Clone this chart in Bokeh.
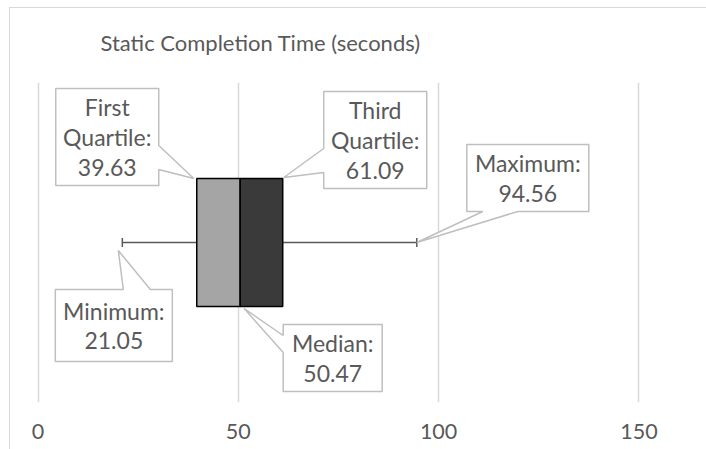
from bokeh.plotting import figure
from bokeh.models import Range1d, SingleIntervalTicker
from bokeh.core.properties import value
from bokeh.embed import file_html
from bokeh.resources import INLINE

# ---- data ----
title_text = "Static Completion Time (seconds)"
stat_names = ["Minimum", "First Quartile", "Median", "Third Quartile", "Maximum"]
stat_values = [21.05, 39.63, 50.47, 61.09, 94.56]
label_lines = [["Minimum:", "21.05"],
               ["First", "Quartile:", "39.63"],
               ["Median:", "50.47"],
               ["Third", "Quartile:", "61.09"],
               ["Maximum:", "94.56"]]
tick_interval = 50

minimum, q1, median, q3, maximum = stat_values

# ---- layout ----
W, H = 706, 449
FL, FT = 10, 82
FW, FH = W - FL, 320
SX = 4.006
X0 = -(37.5 - FL) / SX
X1 = X0 + FW / SX
BOX_BOT, BOX_TOP, MID = 0.3, 0.7, 0.5
FONT = "Lato"
TXT = "#595959"

def to_px(x, y):
    return FL + (x - X0) * SX, FT + FH - y * FH

def to_data(cx, cy):
    return X0 + (cx - FL) / SX, (FT + FH - cy) / FH

p = figure(width=W, height=H, output_backend="svg", toolbar_location=None,
           x_range=Range1d(X0, X1), y_range=Range1d(0, 1),
           y_axis_location=None,
           min_border_left=FL, min_border_right=0, min_border_top=FT,
           min_border_bottom=H - FT - FH)
p.outline_line_color = None
p.background_fill_color = "white"
p.border_fill_color = None
# chart-area border (left and top edges visible in the crop)
p.styles = {
    "background-color": "white",
    "background-image": "linear-gradient(#d9d9d9, #d9d9d9), linear-gradient(#d9d9d9, #d9d9d9)",
    "background-size": "1px 100%, 100% 1px",
    "background-position": "9px 7px, 9px 7px",
    "background-repeat": "no-repeat",
}

p.title.text = title_text
p.title.text_font = FONT
p.title.text_font_size = "22px"
p.title.text_font_style = "normal"
p.title.text_color = TXT
p.title.align = "left"
p.title.vertical_align = "top"
p.title.offset = 90
p.title.standoff = 50

p.ygrid.visible = False
p.xgrid.grid_line_color = "#d9d9d9"
p.xgrid.grid_line_width = 1.5
ax = p.xaxis[0]
ax.ticker = SingleIntervalTicker(interval=tick_interval)
ax.axis_line_color = None
ax.major_tick_line_color = None
ax.minor_tick_line_color = None
ax.major_tick_out = 0
ax.major_tick_in = 0
ax.minor_tick_out = 0
ax.major_label_text_font = FONT
ax.major_label_text_font_size = "21.5px"
ax.major_label_text_color = TXT
ax.major_label_standoff = 21

# whiskers
p.segment(x0=[q1, q3], x1=[minimum, maximum], y0=[MID, MID], y1=[MID, MID],
          line_color="#595959", line_width=1.5)
p.segment(x0=[minimum, maximum], x1=[minimum, maximum],
          y0=[MID - 0.014] * 2, y1=[MID + 0.014] * 2,
          line_color="#595959", line_width=1.5)

# box
p.quad(left=[q1, median], right=[median, q3], bottom=[BOX_BOT] * 2, top=[BOX_TOP] * 2,
       fill_color=["#a5a5a5", "#3a3a3a"], line_color="black", line_width=1.5)

# callouts: offsets in px relative to anchor
specs = {
    "Minimum": dict(ay=MID, tip=(-4, 8), box=(-67, 50, 47, 119), edge="top", base=(1, 28)),
    "First Quartile": dict(ay=BOX_TOP, tip=(-3, 0), box=(-141, -38, -90, 7), edge="right", base=(-33, -9)),
    "Median": dict(ay=BOX_BOT, tip=(4, 2), box=(43, 142, 18, 85), edge="left", base=(29, 46)),
    "Third Quartile": dict(ay=BOX_TOP, tip=(1, -1), box=(41, 144, -87, 10), edge="left", base=(-30, -6)),
    "Maximum": dict(ay=MID, tip=(0, 0), box=(50, 172, -98, -31), edge="bottom", base=(66, 101)),
}

xs, ys = [], []
tx, ty, tt = [], [], []
LINE_SP = 30
for name, val, lines in zip(stat_names, stat_values, label_lines):
    s = specs[name]
    axp, ayp = to_px(val, s["ay"])
    tipx, tipy = axp + s["tip"][0], ayp + s["tip"][1]
    l, r, t, b = [axp + s["box"][0], axp + s["box"][1], ayp + s["box"][2], ayp + s["box"][3]]
    b1, b2 = s["base"]
    e = s["edge"]
    pts = [(l, t)]
    if e == "top":
        pts += [(axp + b1, t), (tipx, tipy), (axp + b2, t)]
    pts += [(r, t)]
    if e == "right":
        pts += [(r, ayp + b1), (tipx, tipy), (r, ayp + b2)]
    pts += [(r, b)]
    if e == "bottom":
        pts += [(axp + b2, b), (tipx, tipy), (axp + b1, b)]
    pts += [(l, b)]
    if e == "left":
        pts += [(l, ayp + b2), (tipx, tipy), (l, ayp + b1)]
    dpts = [to_data(*q) for q in pts]
    xs.append([q[0] for q in dpts])
    ys.append([q[1] for q in dpts])
    cx, cy = (l + r) / 2, (t + b) / 2
    n = len(lines)
    for i, ln in enumerate(lines):
        dx, dy = to_data(cx, cy + (i - (n - 1) / 2) * LINE_SP)
        tx.append(dx); ty.append(dy); tt.append(ln)

p.patches(xs=xs, ys=ys, fill_color="white", line_color="#bfbfbf", line_width=1.5)
p.text(x=tx, y=ty, text=tt, text_font=value(FONT), text_font_size="23px",
       text_color=TXT, text_align="center", text_baseline="middle")

open("out.html", "w").write(file_html(p, INLINE))
